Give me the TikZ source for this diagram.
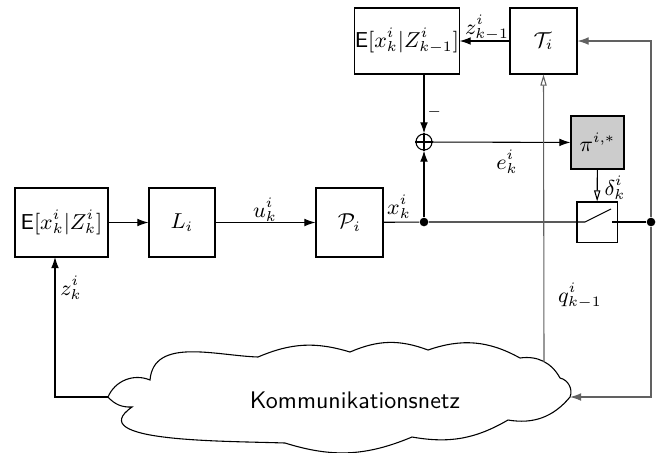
\documentclass[tikz,border=0pt]{standalone}
\usetikzlibrary{arrows.meta}
\begin{document}
\begin{tikzpicture}[x=0.4167pt,y=-0.4167pt,
  every node/.style={font=\fontsize{8.8pt}{10pt}\selectfont},
  blk/.style={draw,inner sep=0pt,minimum height=28.75pt},
  arr/.style={-{Latex[length=4.6pt,width=3.2pt]}},
  oarr/.style={-{Triangle[open,length=4.6pt,width=2.6pt]}},
  gline/.style={draw=black!62},
  dot/.style={circle,fill,inner sep=0pt,minimum size=3.6pt},
  lab/.style={inner sep=0pt},
  line width=0.45pt]
\useasboundingbox (0,0) rectangle (661,452);
% blocks
\node[blk,minimum width=38.75pt] (E1) at (61.5,222.5) {$\mathsf{E}[x_k^i|Z_k^i]$};
\node[blk,minimum width=27.5pt] (L) at (182,222.5) {$L_i$};
\node[blk,minimum width=27.9pt] (P) at (349.5,222.5) {$\mathcal{P}_i$};
\node[blk,minimum width=41.7pt,minimum height=27.5pt] (E2) at (407,41) {$\mathsf{E}[x_k^i|Z_{k-1}^i]$};
\node[blk,minimum width=27.9pt,minimum height=27.5pt] (T) at (543.5,41) {$\mathcal{T}_i$};
\node[blk,fill=black!20,minimum width=22.1pt,minimum height=22.1pt] (pi) at (597.5,142.5) {$\pi^{i,*}$};
\node[blk,minimum width=16.7pt,minimum height=16.7pt] (sw) at (597,222) {};
\node[draw,circle,inner sep=0pt,minimum size=6.7pt] (sum) at (424,142) {};
\draw (sum.north) -- (sum.south) (sum.west) -- (sum.east);
\node[dot] (d1) at (424,222) {};
\node[dot] (d2) at (651,222) {};
% cloud
\coordinate (c0) at (108,397);
\coordinate (c1) at (150,380);
\coordinate (c2) at (258,357);
\coordinate (c3) at (350,352);
\coordinate (c4) at (428,350);
\coordinate (c5) at (520,358);
\coordinate (c6) at (560,378);
\coordinate (c7) at (570,397);
\coordinate (c8) at (508,420);
\coordinate (c9) at (412,437);
\coordinate (c10) at (285,443);
\coordinate (c12) at (132,407);
\draw (c0) to[bend left=45] (c1)
  to[out=85,in=178] (c2)
  to[bend left=20] (c3)
  to[bend left=22] (c4)
  to[bend left=24] (c5)
  to[bend left=35] (c6)
  to[bend left=50] (c7)
  to[bend left=30] (c8)
  to[bend left=20] (c9)
  to[bend left=20] (c10)
  to[out=178,in=215] (c12)
  to[bend left=25] cycle;
\node[lab,font=\normalsize\sffamily] (nettxt) at (355,400) {Kommunikationsnetz};
% switch contacts
\coordinate (swa) at (585,222);
\coordinate (swb) at (611,209);
\coordinate (swc) at (612,222);
\coordinate (cr) at (570,397);
\coordinate (cl) at (108,397);
\coordinate (zin) at (55,257);
\coordinate (qa) at (544,362);
\coordinate (e2o) at (424,74);
% connectors
\draw[arr] (E1) -- (L);
\draw[arr] (L) -- (P);
\draw (P) -- (d1);
\draw (d1) -- (sw.west) -- (swa) -- (swb);
\draw (swc) -- (sw.east) -- (d2);
\draw[arr] (d1) -- (sum.south);
\draw[arr] (e2o) -- (sum.north);
\draw[arr] (sum) -- (pi);
\draw[arr] (T) -- (E2);
\draw[oarr] (pi) -- (sw);
\draw[arr,gline] (d2) |- (T.east);
\draw[arr,gline] (d2) |- (cr);
\draw[oarr,gline] (qa) -- (T.south);
\draw[arr] (cl) -| (zin);
% labels
\node[lab] (lu) at (265,210) {$u_k^i$};
\node[lab] (lx) at (399,207) {$x_k^i$};
\node[lab] (lz) at (71,288) {$z_k^i$};
\node[lab] (le) at (507,162) {$e_k^i$};
\node[lab] (ld) at (615,188) {$\delta_k^i$};
\node[lab] (lq) at (580,296) {$q_{k-1}^i$};
\node[lab] (lz1) at (487,28) {$z_{k-1}^i$};
\node[lab] (lm) at (435,115) {$^-$};
\end{tikzpicture}
\end{document}
